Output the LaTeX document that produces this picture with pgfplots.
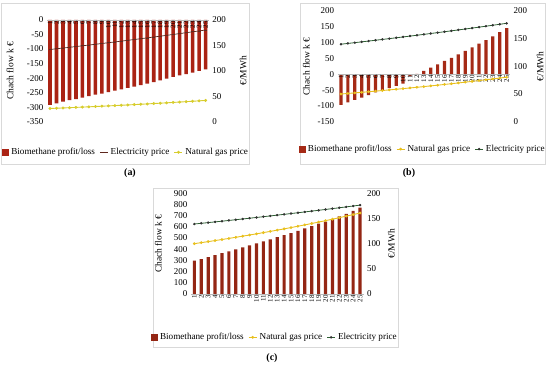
\documentclass[border=0pt]{standalone}
\usepackage{fontspec}
\setmainfont{Liberation Serif}
\usepackage{pgfplots}
\pgfplotsset{compat=1.18}
\definecolor{barc}{RGB}{165,42,22}
\definecolor{barcA}{RGB}{170,35,20}
\definecolor{gasc}{RGB}{232,192,30}
\definecolor{gasA}{RGB}{215,205,45}
\definecolor{elec}{RGB}{45,95,50}
\definecolor{elecA}{RGB}{95,40,30}
\pgfplotsset{
  gridax/.style={
    scale only axis, anchor=south west, xmin=0.5, xmax=25.5,
    axis lines=none, ymajorgrids, grid style={gray!20}, xtick=\empty,
    yticklabels={}, major tick style={draw=none},
  },
  leftax/.style={
    scale only axis, anchor=south west, xmin=0.5, xmax=25.5,
    axis x line*=middle, axis y line*=left, axis on top,
    hide obscured x ticks=false, hide obscured y ticks=false,
    x axis line style={draw=gray!55,-}, y axis line style={draw=none},
    major tick style={draw=none},
    xtick={1,...,25},
    xticklabel style={rotate=90, anchor=east, font=\fontsize{7}{7}\selectfont, inner sep=1pt},
    yticklabel style={font=\fontsize{9}{10}\selectfont},
    ylabel style={font=\fontsize{9.5}{10}\selectfont, anchor=center},
    /pgf/number format/assume math mode=true,
    clip=false,
  },
  rightax/.style={
    scale only axis, anchor=south west, xmin=0.5, xmax=25.5,
    axis x line=none, axis y line*=right, y axis line style={draw=none},
    major tick style={draw=none},
    ymin=0, ymax=200, ytick={0,50,...,200},
    yticklabel style={font=\fontsize{9}{10}\selectfont},
    ylabel style={font=\fontsize{9.5}{10}\selectfont, anchor=center},
    ylabel={€/MWh},
    /pgf/number format/assume math mode=true,
    legend columns=-1,
    legend style={draw=none, fill=none, font=\fontsize{9.2}{11}\selectfont, anchor=center,
      /tikz/every even column/.append style={column sep=2.5pt}, inner sep=1pt,
      /tikz/every odd column/.append style={column sep=0.5pt}},
    legend image code/.code={\draw[mark repeat=2,mark phase=2,#1] plot coordinates {(0bp,0bp) (4bp,0bp) (8bp,0bp)};},
    legend cell align=left,
    clip=false,
  },
  barleg/.style={legend image code/.code={\fill[#1] (0bp,-3bp) rectangle (6bp,3bp);}},
}
\begin{document}
\begin{tikzpicture}
\useasboundingbox (0,0) rectangle (550bp,368bp);
% panel frames
\draw[gray!30] (1bp,204bp) rectangle (249bp,365bp);
\draw[gray!30] (300bp,204bp) rectangle (545bp,365bp);
\draw[gray!30] (153bp,21bp) rectangle (398bp,180bp);

% ---------------- (a)
\begin{axis}[gridax, at={(46.8bp,246.3bp)}, width=162bp, height=101.7bp,
  ymin=-350, ymax=0, ytick={-350,-300,...,0}]
\addplot[draw=none] coordinates {(1,0)};
\end{axis}
\begin{axis}[leftax, at={(46.8bp,246.3bp)}, width=162bp, height=101.7bp,
  ymin=-350, ymax=0, ytick={-350,-300,...,0},
  ylabel={Chach flow k €}, ylabel style={at={(axis description cs:-0.227,0.5)}}]
\addplot[ybar, bar width=3.6bp, fill=barcA, draw=none] coordinates {
(1,-292)(2,-287)(3,-281)(4,-276)(5,-272)(6,-267)(7,-262)(8,-257)(9,-253)(10,-248)
(11,-243)(12,-239)(13,-234)(14,-229)(15,-224)(16,-219)(17,-214)(18,-208)(19,-202)(20,-196)
(21,-191)(22,-186)(23,-181)(24,-175)(25,-170)};
\end{axis}
\begin{axis}[rightax, at={(46.8bp,246.3bp)}, width=162bp, height=101.7bp,
  ylabel style={at={(axis description cs:1.212,0.5)}},
  legend style={at={(axis description cs:0.49,-0.30)}}]
\addlegendimage{barleg=barcA}
\addlegendentry{Biomethane profit/loss}
\addplot[elecA, line width=0.7pt, mark=-, mark size=1.5pt] coordinates {
(1,142)(2,143.42)(3,144.85)(4,146.3)(5,147.77)(6,149.24)(7,150.74)(8,152.24)(9,153.77)(10,155.3)
(11,156.86)(12,158.43)(13,160.01)(14,161.61)(15,163.23)(16,164.86)(17,166.51)(18,168.17)(19,169.85)(20,171.55)
(21,173.27)(22,175)(23,176.75)(24,178.52)(25,180.3)};
\addlegendentry{Electricity price}
\addplot[gasA, line width=0.9pt, mark=*, mark size=1pt] coordinates {
(1,26)(2,26.52)(3,27.05)(4,27.59)(5,28.14)(6,28.71)(7,29.28)(8,29.87)(9,30.46)(10,31.07)
(11,31.69)(12,32.33)(13,32.97)(14,33.63)(15,34.31)(16,34.99)(17,35.69)(18,36.41)(19,37.14)(20,37.88)
(21,38.64)(22,39.41)(23,40.2)(24,41)(25,41.82)};
\addlegendentry{Natural gas price}
\end{axis}
\node[font=\bfseries\fontsize{10}{12}\selectfont] at (130bp,195bp) {(a)};

% ---------------- (b)
\begin{axis}[gridax, at={(337.5bp,246.3bp)}, width=172.6bp, height=110.7bp,
  ymin=-150, ymax=200, ytick={-150,-100,...,200}]
\addplot[draw=none] coordinates {(1,0)};
\end{axis}
\begin{axis}[leftax, at={(337.5bp,246.3bp)}, width=172.6bp, height=110.7bp,
  ymin=-150, ymax=200, ytick={-150,-100,...,200},
  ylabel={Chach flow k €}, ylabel style={at={(axis description cs:-0.18,0.5)}}]
\addplot[ybar, bar width=3.2bp, fill=barc, draw=none] coordinates {
(1,-97)(2,-89)(3,-81)(4,-74)(5,-66)(6,-57)(7,-50)(8,-44)(9,-37)(10,-30)
(11,-6)(12,1)(13,11)(14,21)(15,31)(16,42)(17,52)(18,63)(19,74)(20,85)
(21,97)(22,108)(23,120)(24,133)(25,146)};
\end{axis}
\begin{axis}[rightax, at={(337.5bp,246.3bp)}, width=172.6bp, height=110.7bp,
  ylabel style={at={(axis description cs:1.174,0.5)}},
  legend style={at={(axis description cs:0.495,-0.247)}}]
\addlegendimage{barleg=barc}
\addlegendentry{Biomethane profit/loss}
\addplot[gasc, line width=0.9pt, mark=*, mark size=0.9pt] coordinates {
(1,50)(2,51)(3,52.02)(4,53.06)(5,54.12)(6,55.2)(7,56.31)(8,57.43)(9,58.58)(10,59.75)
(11,60.95)(12,62.17)(13,63.41)(14,64.68)(15,65.97)(16,67.29)(17,68.64)(18,70.01)(19,71.41)(20,72.84)
(21,74.3)(22,75.78)(23,77.3)(24,78.84)(25,80.42)};
\addlegendentry{Natural gas price}
\addplot[elec, line width=0.8pt, mark=*, mark size=0.8pt, mark options={fill=black!80, draw=black!80}] coordinates {
(1,140)(2,141.4)(3,142.81)(4,144.24)(5,145.69)(6,147.14)(7,148.61)(8,150.1)(9,151.6)(10,153.12)
(11,154.65)(12,156.19)(13,157.76)(14,159.33)(15,160.93)(16,162.54)(17,164.16)(18,165.8)(19,167.46)(20,169.14)
(21,170.83)(22,172.54)(23,174.26)(24,176)(25,177.76)};
\addlegendentry{Electricity price}
\end{axis}
\node[font=\bfseries\fontsize{10}{12}\selectfont] at (409bp,195bp) {(b)};

% ---------------- (c)
\begin{axis}[gridax, at={(190.9bp,74bp)}, width=172.6bp, height=100.7bp,
  ymin=0, ymax=900, ytick={0,100,...,900}]
\addplot[draw=none] coordinates {(1,0)};
\end{axis}
\begin{axis}[leftax, at={(190.9bp,74bp)}, width=172.6bp, height=100.7bp,
  ymin=0, ymax=900, ytick={0,100,...,900},
  ylabel={Chach flow k €}, ylabel style={at={(axis description cs:-0.189,0.5)}}]
\addplot[ybar, bar width=3.2bp, fill=barc!90!black, draw=none] coordinates {
(1,298)(2,312)(3,330)(4,348)(5,366)(6,381)(7,399)(8,417)(9,435)(10,452)
(11,470)(12,488)(13,509)(14,527)(15,545)(16,565)(17,586)(18,607)(19,628)(20,646)
(21,670)(22,693)(23,717)(24,744)(25,771)};
\end{axis}
\begin{axis}[rightax, at={(190.9bp,74bp)}, width=172.6bp, height=100.7bp,
  ylabel style={at={(axis description cs:1.162,0.5)}},
  legend style={at={(axis description cs:0.487,-0.43)}}]
\addlegendimage{barleg=barc!90!black}
\addlegendentry{Biomethane profit/loss}
\addplot[gasc, line width=0.9pt, mark=*, mark size=0.9pt] coordinates {
(1,100)(2,102)(3,104.04)(4,106.12)(5,108.24)(6,110.41)(7,112.62)(8,114.87)(9,117.17)(10,119.51)
(11,121.9)(12,124.34)(13,126.82)(14,129.36)(15,131.95)(16,134.59)(17,137.28)(18,140.02)(19,142.82)(20,145.68)
(21,148.59)(22,151.57)(23,154.6)(24,157.69)(25,160.84)};
\addlegendentry{Natural gas price}
\addplot[elec, line width=0.8pt, mark=*, mark size=0.8pt, mark options={fill=black!80, draw=black!80}] coordinates {
(1,139)(2,140.39)(3,141.79)(4,143.21)(5,144.64)(6,146.09)(7,147.55)(8,149.03)(9,150.52)(10,152.02)
(11,153.54)(12,155.08)(13,156.63)(14,158.19)(15,159.78)(16,161.37)(17,162.99)(18,164.62)(19,166.26)(20,167.93)
(21,169.61)(22,171.3)(23,173.02)(24,174.75)(25,176.49)};
\addlegendentry{Electricity price}
\end{axis}
\node[font=\bfseries\fontsize{10}{12}\selectfont] at (272bp,10bp) {(c)};
\end{tikzpicture}
\end{document}
